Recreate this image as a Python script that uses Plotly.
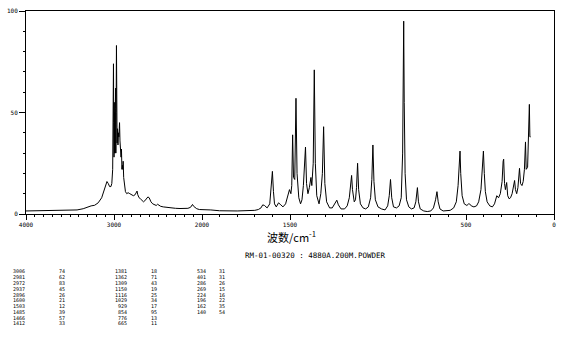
import plotly.graph_objects as go

# ---------------- data ----------------
wavenumber = [
    4000, 3900, 3800, 3700, 3600, 3500, 3420, 3350, 3300, 3260, 3220, 3180, 3140, 3110,
    3090, 3080, 3065, 3050, 3035, 3025, 3015, 3010, 3006, 3003, 3000, 2997, 2994, 2991,
    2988, 2985, 2981, 2979, 2976, 2972, 2969, 2965, 2960, 2955, 2950, 2945, 2940, 2937,
    2932, 2926, 2920, 2915, 2910, 2905, 2900, 2896, 2890, 2880, 2870, 2855, 2840, 2820,
    2800, 2780, 2760, 2745, 2738, 2730, 2715, 2700, 2680, 2665, 2650, 2630, 2615, 2600,
    2580, 2560, 2540, 2520, 2505, 2490, 2470, 2440, 2400, 2350, 2300, 2250, 2200, 2160,
    2130, 2115, 2108, 2095, 2080, 2060, 2030, 2000,
    1950, 1900, 1800, 1700, 1680, 1665, 1655, 1645, 1630, 1615, 1607, 1600, 1594, 1588,
    1578, 1565, 1552, 1540, 1525, 1512, 1503, 1495, 1490, 1485, 1480, 1473, 1466, 1460,
    1450, 1440, 1432, 1424, 1418, 1412, 1406, 1398, 1390, 1386, 1381, 1376, 1368, 1362,
    1356, 1348, 1335, 1325, 1316, 1309, 1302, 1292, 1275, 1260, 1245, 1234, 1225, 1210,
    1190, 1175, 1163, 1155, 1150, 1145, 1135, 1128, 1122, 1116, 1110, 1100, 1085, 1070,
    1055, 1042, 1035, 1029, 1023, 1015, 1000, 980, 960, 945, 936, 929, 922, 912,
    895, 880, 868, 860, 856, 854, 851, 846, 838, 825, 810, 795, 785, 776,
    770, 760, 740, 720, 700, 685, 673, 665, 658, 648, 630, 610, 590, 570,
    555, 545, 538, 534, 530, 522, 510, 495, 485, 480, 470, 455, 440, 428,
    415, 407, 401, 396, 390, 380, 365, 350, 338, 325, 315, 305, 295, 289,
    286, 281, 276, 269, 263, 255, 247, 238, 230, 224, 219, 212, 205, 196,
    190, 182, 175, 168, 162, 158, 150, 145, 140, 137, 133,
]
intensity = [
    1.5, 1.6, 1.5, 1.7, 1.6, 1.8, 2.0, 2.6, 3.6, 4.0, 4.3, 5.5, 8, 12,
    15.5, 16, 15, 13.5, 13.5, 15, 22, 40, 74, 45, 28, 55, 30, 50,
    30, 52, 62, 30, 50, 83, 40, 35, 42, 34, 40, 38, 42, 45,
    36, 30, 28, 32, 22, 24, 22, 26, 18, 14, 11, 10, 10.5, 10,
    9.5, 9, 9.5, 11, 11.3, 9.5, 8, 7.5, 6.5, 6, 6.5, 8, 8.4, 8,
    6, 5, 4.5, 4.2, 4.8, 4.2, 3.8, 3.5, 3.2, 3.0, 2.8, 2.7, 2.6, 2.8,
    3.3, 4.5, 4.7, 3.8, 3.2, 2.6, 2.2, 2.2,
    2.0, 1.6, 1.5, 1.8, 2.2, 3, 4.5, 4.2, 3, 5, 12, 21, 11, 5,
    3.5, 5.5, 4.5, 3.5, 5, 9, 12, 10, 14, 39, 18, 17, 57, 20,
    8, 5, 7, 14, 22, 33, 15, 10, 13, 16, 18, 14, 25, 71,
    25, 9, 5, 10, 20, 43, 15, 6, 3, 3, 5, 6.8, 4.5, 2.5,
    2.5, 4, 8, 14, 19, 12, 6, 7, 13, 25, 12, 5, 3, 2.5,
    3.5, 8, 17, 34, 16, 7, 3.5, 2.5, 2, 4, 9, 17, 8, 3.5,
    3, 4, 8, 30, 60, 95, 55, 20, 7, 3.5, 2.5, 3, 6, 13,
    6, 2.5, 1.5, 1.2, 1.5, 3, 7, 11, 6, 2.5, 1.5, 1.5, 1.8, 3,
    6, 14, 25, 31, 20, 9, 5, 4.2, 5, 5, 4, 3.5, 4, 6,
    12, 24, 31, 20, 11, 6, 4, 3.5, 5, 9, 8, 10, 16, 26,
    27, 15, 12, 15.5, 9, 7.5, 8, 10, 13, 16.5, 12, 10, 13, 22.5,
    15, 14, 16, 22, 35.5, 22, 23, 38, 54, 38, 38,
]

# peak table (wavenumber, relative intensity)
peak_wn = [3006, 2981, 2972, 2937, 2896, 1600, 1503, 1485, 1466, 1412,
           1381, 1362, 1309, 1150, 1116, 1029, 929, 854, 776, 665,
           534, 401, 286, 269, 224, 196, 162, 140]
peak_int = [74, 62, 83, 45, 26, 21, 12, 39, 57, 33,
            18, 71, 43, 19, 25, 34, 17, 95, 13, 11,
            31, 31, 26, 15, 16, 22, 35, 54]

x_tick_labels = [4000, 3000, 2000, 1500, 500, 0]
y_tick_labels = [0, 50, 100]
x_title = "波数/cm<sup>-1</sup>"
caption = "RM-01-00320 : 4880A.200M.POWDER"


# ---------------- broken (split) wavenumber scale ----------------
def to_t(w):
    # 4000-2000 compressed, 2000-0 expanded twice
    return 4000 - w if w >= 2000 else 2000 + 2 * (2000 - w)


W, H = 570, 351
L, R, T, B = 22, 16, 7, 137
PW, PH = W - L - R, H - T - B


def px(x):
    return (x - L) / PW


def py(y):
    return (T + PH - y) / PH


MONO = "DejaVu Sans Mono"

fig = go.Figure(go.Scatter(
    x=[to_t(w) for w in wavenumber], y=intensity,
    mode="lines", line=dict(color="black", width=1), hoverinfo="skip",
))

minor_vals = [to_t(w) for w in range(4000, -1, -100)]

fig.update_xaxes(
    range=[0, 6000], showgrid=False, zeroline=False,
    showline=True, linecolor="black", linewidth=1, mirror=True,
    tickmode="array", tickvals=[to_t(w) for w in x_tick_labels],
    ticktext=[str(w) for w in x_tick_labels],
    ticks="outside", ticklen=5, tickwidth=1, tickcolor="black",
    tickfont=dict(family=MONO, size=6, color="black"),
    minor=dict(tickmode="array", tickvals=minor_vals, ticks="outside",
               ticklen=2, tickwidth=1, tickcolor="black"),
)
fig.update_yaxes(
    range=[0, 100], showgrid=False, zeroline=False,
    showline=True, linecolor="black", linewidth=1, mirror=True,
    tickmode="array", tickvals=y_tick_labels,
    ticks="outside", ticklen=6, tickwidth=1, tickcolor="black",
    tickfont=dict(family=MONO, size=6, color="black"),
    minor=dict(dtick=10, ticks="outside", ticklen=2, tickwidth=1, tickcolor="black"),
)

annotations = [
    dict(text=x_title, x=px(290), y=py(237), xref="paper", yref="paper",
         showarrow=False, xanchor="center", yanchor="middle",
         font=dict(family="Noto Sans CJK SC", size=11, color="black")),
    dict(text=caption, x=px(313), y=py(256), xref="paper", yref="paper",
         showarrow=False, xanchor="center", yanchor="middle",
         font=dict(family=MONO, size=7.5, color="black")),
]

wn_right = [22.5, 124.5, 204.5]
int_left = [54, 146.5, 215]
row0, row_step = 272.5, 5.9
for i, (w, v) in enumerate(zip(peak_wn, peak_int)):
    g, r = divmod(i, 10)
    yy = py(row0 + r * row_step)
    annotations.append(dict(text=str(w), x=px(wn_right[g]), y=yy, xref="paper", yref="paper",
                            showarrow=False, xanchor="right", yanchor="middle", borderpad=0,
                            font=dict(family=MONO, size=5, color="black")))
    annotations.append(dict(text=str(v), x=px(int_left[g]), y=yy, xref="paper", yref="paper",
                            showarrow=False, xanchor="left", yanchor="middle", borderpad=0,
                            font=dict(family=MONO, size=5, color="black")))

fig.update_layout(
    width=W, height=H, margin=dict(l=L, r=R, t=T, b=B),
    paper_bgcolor="white", plot_bgcolor="white", showlegend=False,
    annotations=annotations,
)

fig.write_html("out.html")
